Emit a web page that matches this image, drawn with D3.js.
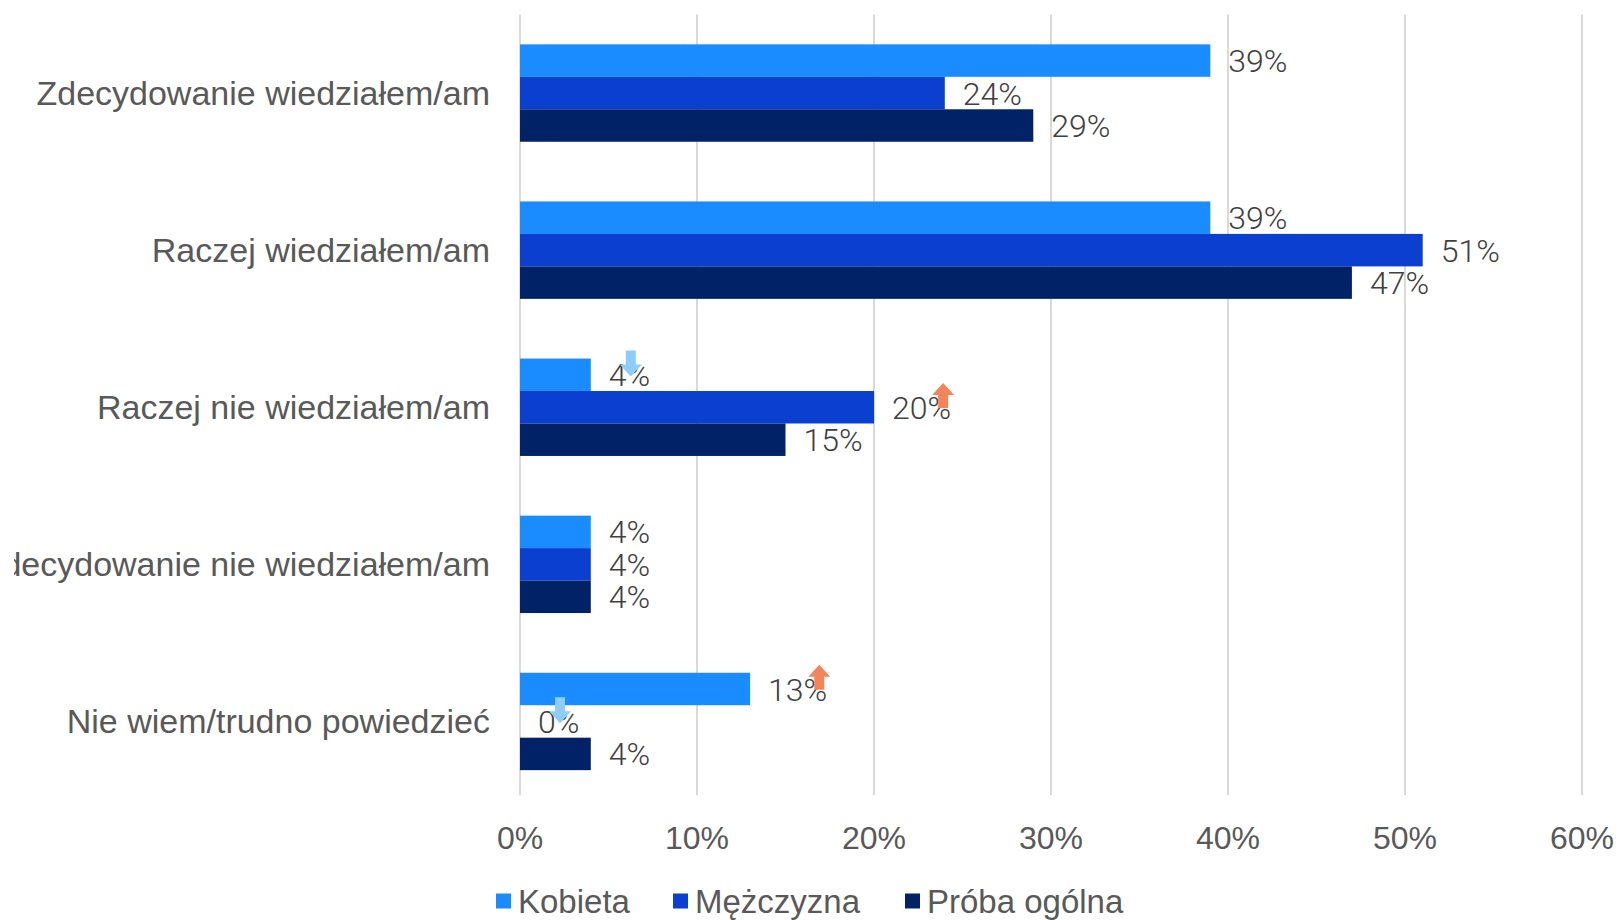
<!DOCTYPE html>
<html>
<head>
<meta charset="utf-8">
<script src="https://cdn.jsdelivr.net/npm/d3@7"></script>
<style>
	body { margin: 0; background: #fff; }
	svg { display: block; }
</style>
</head>
<body>
<svg id="chart" width="1619" height="920"></svg>
<script>
var categories = ["Zdecydowanie wiedziałem/am", "Raczej wiedziałem/am", "Raczej nie wiedziałem/am", "Zdecydowanie nie wiedziałem/am", "Nie wiem/trudno powiedzieć"];
var seriesNames = ["Kobieta", "Mężczyzna", "Próba ogólna"];
var seriesColors = ["#1a8cff", "#0b3fd0", "#012266"];
var kobieta = [0.39, 0.39, 0.04, 0.04, 0.13];
var mezczyzna = [0.24, 0.51, 0.20, 0.04, 0.00];
var proba = [0.29, 0.47, 0.15, 0.04, 0.04];
var xTicks = [0, 0.1, 0.2, 0.3, 0.4, 0.5, 0.6];
// significance arrows: [category index, series index, direction]
var arrows = [[2, 0, "down"], [2, 1, "up"], [4, 0, "up"], [4, 1, "down"]];

var seriesValues = [kobieta, mezczyzna, proba];

var svg = d3.select("#chart");
var textColor = "#595959";

svg.append("defs").append("clipPath").attr("id", "clip")
	.append("rect").attr("x", 14).attr("y", 0).attr("width", 1605).attr("height", 920);

var root = svg.append("g").attr("clip-path", "url(#clip)");

var x = d3.scaleLinear().domain([0, 0.6]).range([520, 1582]);
var y0 = d3.scaleBand().domain(categories).range([14.5, 800]).paddingInner(0.38).paddingOuter(0.19);
var y1 = d3.scaleBand().domain(seriesNames).range([0, y0.bandwidth()]);

// gridlines
root.selectAll("line.grid")
	.data(xTicks)
	.enter()
	.append("line")
	.attr("class", "grid")
	.attr("x1", d => x(d))
	.attr("x2", d => x(d))
	.attr("y1", 14.5)
	.attr("y2", 795)
	.style("stroke", "#d9d9d9")
	.style("stroke-width", 2);

// tick labels
root.selectAll("text.tick")
	.data(xTicks)
	.enter()
	.append("text")
	.attr("class", "tick")
	.attr("x", d => x(d))
	.attr("y", 838)
	.attr("dy", "0.35em")
	.attr("text-anchor", "middle")
	.style("font-family", "Liberation Sans, Arial, sans-serif")
	.style("font-size", "32px")
	.style("fill", textColor)
	.text(d3.format(".0%"));

// category labels
root.selectAll("text.cat")
	.data(categories)
	.enter()
	.append("text")
	.attr("class", "cat")
	.attr("x", 490)
	.attr("y", d => y0(d) + y0.bandwidth() / 2)
	.attr("dy", "0.35em")
	.attr("text-anchor", "end")
	.style("font-family", "Liberation Sans, Arial, sans-serif")
	.style("font-size", "34px")
	.style("fill", textColor)
	.text(d => d);

var rows = [];
categories.forEach((c, ci) => {
	seriesNames.forEach((s, si) => {
		rows.push({cat: c, ci: ci, series: s, si: si, value: seriesValues[si][ci]});
	});
});

root.selectAll("rect.bar")
	.data(rows)
	.enter()
	.append("rect")
	.attr("class", "bar")
	.attr("x", x(0))
	.attr("y", d => y0(d.cat) + y1(d.series))
	.attr("width", d => x(d.value) - x(0))
	.attr("height", y1.bandwidth())
	.style("fill", d => seriesColors[d.si]);

var labels = root.selectAll("text.val")
	.data(rows)
	.enter()
	.append("text")
	.attr("class", "val")
	.attr("x", d => x(d.value) + 18)
	.attr("y", d => y0(d.cat) + y1(d.series) + y1.bandwidth() / 2)
	.attr("dy", "0.36em")
	.style("font-family", "Roboto, sans-serif")
	.style("font-weight", 300)
	.style("font-size", "32px")
	.style("fill", "#404040")
	.text(d => d3.format(".0%")(d.value));

// arrows
var labelNodes = {};
labels.each(function(d) { labelNodes[d.ci + "-" + d.si] = this; });

arrows.forEach(a => {
	var node = labelNodes[a[0] + "-" + a[1]];
	var d = d3.select(node).datum();
	var bb = node.getBBox();
	var top = y0(d.cat) + y1(d.series);
	var cx, ty;
	if (a[2] === "up") {
		cx = bb.x + bb.width - 8;
		ty = top - 8;
		root.append("path")
			.attr("d", "M0,0 L11,12 L5,12 L5,25 L-5,25 L-5,12 L-11,12 Z")
			.attr("transform", "translate(" + cx + "," + ty + ")")
			.style("fill", "#f4845a");
	} else {
		cx = bb.x + 22;
		ty = top - 8;
		root.append("path")
			.attr("d", "M-5,0 L5,0 L5,14 L11,14 L0,26 L-11,14 L-5,14 Z")
			.attr("transform", "translate(" + cx + "," + ty + ")")
			.style("fill", "#8dcdfb");
	}
});

// legend
var legendX = [496, 673, 905];
var legend = root.selectAll("g.legend")
	.data(seriesNames)
	.enter()
	.append("g")
	.attr("class", "legend")
	.attr("transform", (d, i) => "translate(" + legendX[i] + ",901)");

legend.append("rect")
	.attr("x", 0)
	.attr("y", -7.5)
	.attr("width", 15)
	.attr("height", 15)
	.style("fill", (d, i) => seriesColors[i]);

legend.append("text")
	.attr("x", 22)
	.attr("y", 0)
	.attr("dy", "0.35em")
	.style("font-family", "Liberation Sans, Arial, sans-serif")
	.style("font-size", "33px")
	.style("fill", textColor)
	.text(d => d);
</script>
</body>
</html>
